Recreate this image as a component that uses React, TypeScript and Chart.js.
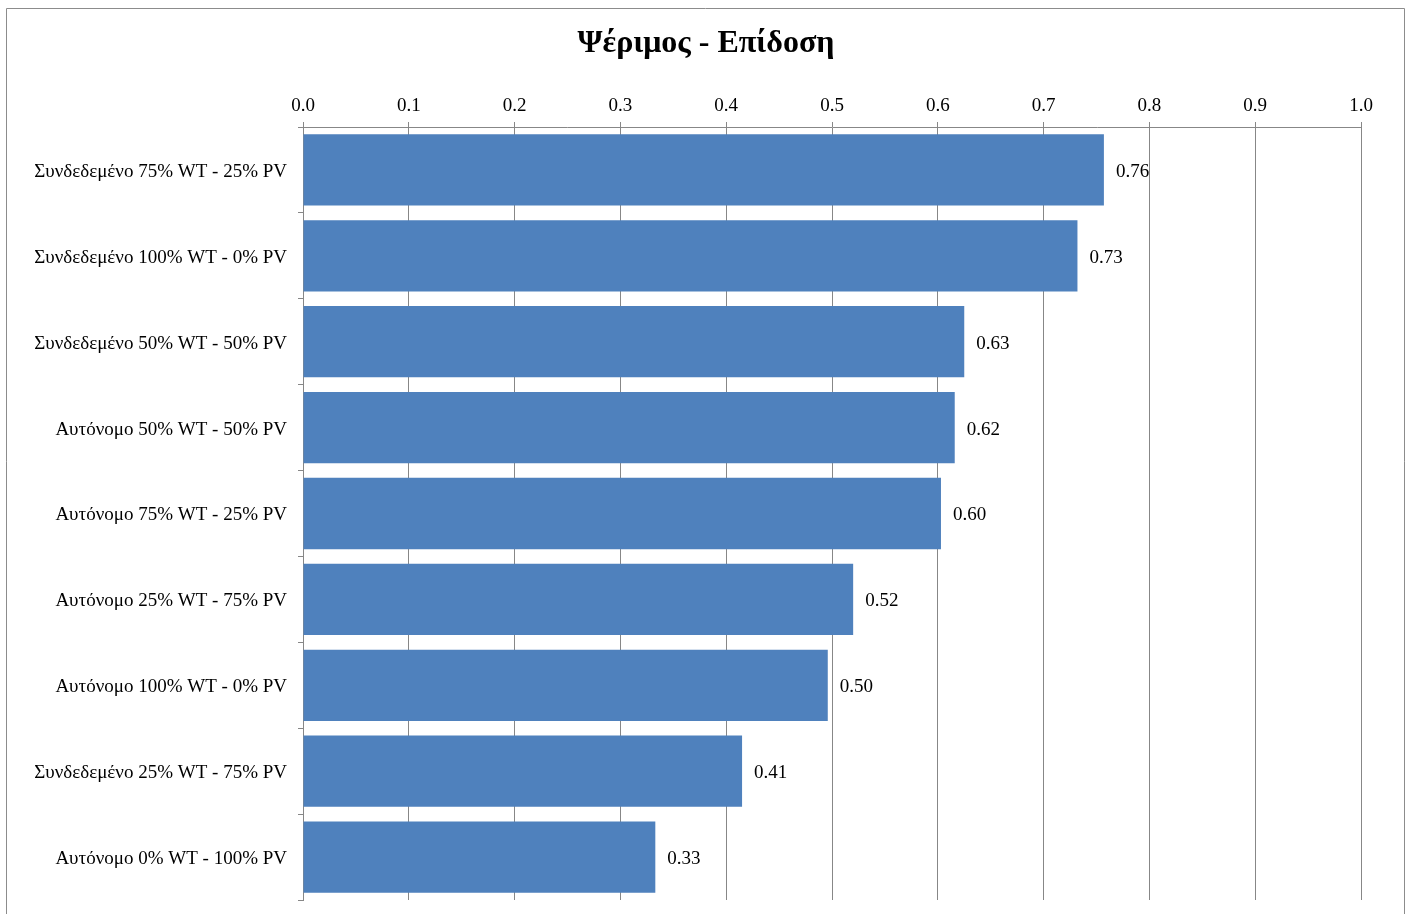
import React, { useEffect, useRef } from "react";
import { Chart, registerables } from "chart.js";

Chart.register(...registerables);

const titleText = "Ψέριμος - Επίδοση";
const categories = [
  "Συνδεδεμένο 75% WT - 25% PV",
  "Συνδεδεμένο 100% WT - 0% PV",
  "Συνδεδεμένο 50% WT - 50% PV",
  "Αυτόνομο 50% WT - 50% PV",
  "Αυτόνομο 75% WT - 25% PV",
  "Αυτόνομο 25% WT - 75% PV",
  "Αυτόνομο 100% WT - 0% PV",
  "Συνδεδεμένο 25% WT - 75% PV",
  "Αυτόνομο 0% WT - 100% PV",
];
const values = [0.757, 0.732, 0.625, 0.616, 0.603, 0.52, 0.496, 0.415, 0.333];
const axisMin = 0;
const axisMax = 1;
const axisStep = 0.1;

const GRID = "#878787";
const BAR = "#4F81BD";
const SERIF = "'Liberation Serif', 'Times New Roman', serif";
const FS = 19;

export default function App() {
  const ref = useRef<HTMLCanvasElement>(null);

  useEffect(() => {
    if (!ref.current) return;
    const framePlugin = {
      id: "frame",
      afterDraw(chart: any) {
        const ctx = chart.ctx;
        ctx.save();
        ctx.strokeStyle = "#8c8c8c";
        ctx.lineWidth = 1;
        ctx.beginPath();
        ctx.moveTo(6.5, 914);
        ctx.lineTo(6.5, 8.5);
        ctx.lineTo(1404.5, 8.5);
        ctx.lineTo(1404.5, 914);
        ctx.stroke();
        // title
        ctx.fillStyle = "#000";
        ctx.font = `bold 32px ${SERIF}`;
        ctx.textAlign = "center";
        ctx.textBaseline = "middle";
        ctx.fillText(titleText, 706, 44);
        // value labels
        ctx.font = `${FS}px ${SERIF}`;
        ctx.textAlign = "left";
        const meta = chart.getDatasetMeta(0);
        meta.data.forEach((bar: any, i: number) => {
          ctx.fillText(values[i].toFixed(2), bar.x + 12, bar.y + 2);
        });
        ctx.restore();
      },
    };

    const chart = new Chart(ref.current, {
      type: "bar",
      data: {
        labels: categories,
        datasets: [
          {
            data: values,
            backgroundColor: BAR,
            borderWidth: 0,
            barPercentage: 0.83,
            categoryPercentage: 1,
          },
        ],
      },
      options: {
        indexAxis: "y",
        animation: false,
        responsive: false,
        layout: { padding: { left: 0, top: 80, right: 49, bottom: 14 } },
        plugins: {
          legend: { display: false },
          title: { display: false },
          tooltip: { enabled: false },
        },
        scales: {
          x: {
            position: "top",
            min: axisMin,
            max: axisMax,
            ticks: {
              stepSize: axisStep,
              color: "#000",
              font: { family: SERIF, size: FS },
              padding: 5,
              callback: (v: any) => Number(v).toFixed(1),
            },
            grid: { color: GRID, drawTicks: true, tickLength: 5, lineWidth: 1 },
            border: { display: true, color: GRID },
            afterFit: (s: any) => {
              s.height = 47;
              s.paddingLeft = 0;
              s.paddingRight = 0;
            },
          },
          y: {
            ticks: {
              color: "#000",
              font: { family: SERIF, size: FS },
              padding: 11,
              labelOffset: 2,
            },
            grid: {
              drawOnChartArea: false,
              drawTicks: true,
              tickLength: 5,
              color: GRID,
              offset: true,
            },
            border: { display: true, color: GRID },
            afterFit: (s: any) => {
              s.width = 303;
              s.paddingTop = 0;
              s.paddingBottom = 0;
            },
          },
        },
      },
      plugins: [framePlugin],
    });
    return () => chart.destroy();
  }, []);

  return (
    <div style={{ position: "fixed", left: 0, top: 0, width: 1410, height: 914, background: "#fff" }}>
      <canvas ref={ref} width={1410} height={914} />
    </div>
  );
}
